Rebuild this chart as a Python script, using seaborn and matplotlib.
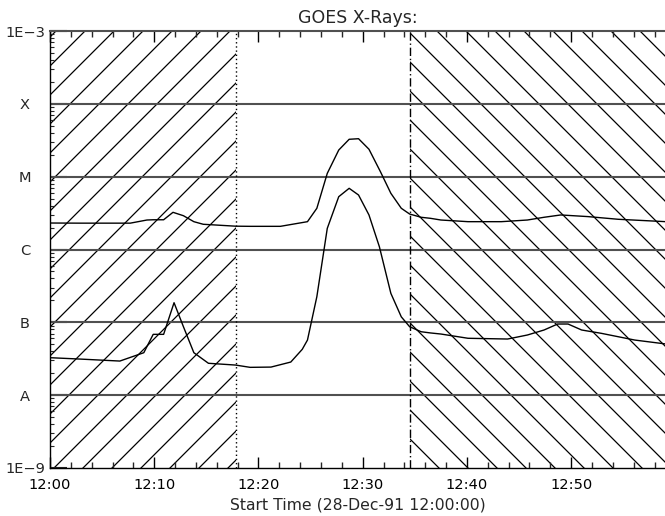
import numpy as np
import pandas as pd
import matplotlib
matplotlib.use("Agg")
import matplotlib.pyplot as plt
import seaborn as sns
from matplotlib.ticker import FixedLocator, LogLocator, NullFormatter

# minutes after 12:00 for the long channel (1-8 A)
long_t = [0.0, 2.9, 7.7, 9.3, 9.9, 10.9, 11.8, 12.8, 13.8, 14.7, 17.8, 19.2, 22.1,
          24.7, 25.6, 26.6, 27.7, 28.7, 29.6, 30.6, 31.7, 32.7, 33.7, 34.5, 35.6,
          36.5, 37.5, 40.1, 43.3, 45.8, 47.4, 49.0, 51.6, 54.5, 59.1]
long_flux = [2.31e-6, 2.30e-6, 2.30e-6, 2.54e-6, 2.56e-6, 2.56e-6, 3.24e-6, 2.91e-6,
             2.41e-6, 2.22e-6, 2.09e-6, 2.08e-6, 2.08e-6, 2.41e-6, 3.68e-6, 1.11e-5,
             2.32e-5, 3.26e-5, 3.32e-5, 2.38e-5, 1.17e-5, 5.91e-6, 3.68e-6, 3.07e-6,
             2.77e-6, 2.68e-6, 2.54e-6, 2.41e-6, 2.41e-6, 2.54e-6, 2.77e-6, 2.98e-6,
             2.83e-6, 2.60e-6, 2.41e-6]

# short channel (0.5-4 A)
short_t = [0.0, 2.9, 6.7, 9.0, 9.9, 10.9, 11.9, 12.8, 13.8, 15.2, 17.8, 19.2, 21.2,
           23.1, 24.2, 24.7, 25.6, 26.6, 27.7, 28.7, 29.6, 30.6, 31.6, 32.7, 33.7,
           34.5, 35.6, 36.5, 37.5, 40.1, 43.9, 45.8, 47.4, 48.7, 49.7, 51.0, 52.9,
           56.1, 59.1]
short_flux = [3.27e-8, 3.13e-8, 2.94e-8, 3.83e-8, 6.84e-8, 6.84e-8, 1.86e-7, 8.71e-8,
              3.83e-8, 2.74e-8, 2.59e-8, 2.41e-8, 2.43e-8, 2.85e-8, 4.26e-8, 5.71e-8,
              2.25e-7, 1.95e-6, 5.31e-6, 6.92e-6, 5.60e-6, 2.98e-6, 1.09e-6, 2.50e-7,
              1.19e-7, 8.71e-8, 7.43e-8, 7.15e-8, 6.91e-8, 6.04e-8, 5.90e-8, 6.70e-8,
              7.85e-8, 9.48e-8, 9.48e-8, 7.85e-8, 7.06e-8, 5.71e-8, 5.04e-8]

x_ticks = [0, 10, 20, 30, 40, 50]
x_labels = ["12:00", "12:10", "12:20", "12:30", "12:40", "12:50"]
y_ticks = [1e-9, 1e-8, 1e-7, 1e-6, 1e-5, 1e-4, 1e-3]
y_labels = ["1E\u22129", "A", "B", "C", "M", "X", "1E\u22123"]
pre_span = [0.0, 17.8]
post_span = [34.5, 59.0]

DPI = 87.6
K = 100.0 / DPI  # keep pixel sizes as designed for 100 dpi

sns.set_style("white")
plt.rcParams['font.family'] = ['DejaVu Sans']
plt.rcParams['hatch.linewidth'] = 0.9 * K

df = pd.concat([
    pd.DataFrame({"t": long_t, "flux": long_flux, "ch": "long"}),
    pd.DataFrame({"t": short_t, "flux": short_flux, "ch": "short"}),
], ignore_index=True)

fig = plt.figure(figsize=(665 / DPI, 516 / DPI), dpi=DPI)
ax = fig.add_axes([50 / 665, 48 / 516, 615 / 665, 437 / 516])

ax.axvspan(pre_span[0], pre_span[1], facecolor="none", edgecolor="black",
           hatch="/", linewidth=0, zorder=0)
ax.axvspan(post_span[0], post_span[1], facecolor="none", edgecolor="black",
           hatch="\\", linewidth=0, zorder=0)

sns.lineplot(data=df, x="t", y="flux", units="ch", estimator=None,
             color="black", linewidth=1.0 * K, ax=ax, legend=False)

ax.set_yscale("log")
ax.set_xlim(0, 59)
ax.set_ylim(1e-9, 1e-3)

for v in y_ticks[1:-1]:
    ax.axhline(v, color="#505050", linewidth=1.5 * K, zorder=1)

ax.axvline(pre_span[1], color="black", linestyle=(0, (1, 2)), linewidth=1.0 * K)
ax.axvline(post_span[0], color="black", linestyle=(0, (6, 2, 1, 2)), linewidth=1.0 * K)

ax.xaxis.set_major_locator(FixedLocator(x_ticks))
ax.set_xticklabels(x_labels)
ax.xaxis.set_minor_locator(FixedLocator(np.arange(0, 60, 2)))
ax.yaxis.set_major_locator(FixedLocator(y_ticks))
ax.set_yticklabels(y_labels)
ax.yaxis.set_minor_locator(LogLocator(base=10, subs=np.arange(2, 10)))
ax.yaxis.set_minor_formatter(NullFormatter())

ax.tick_params(axis="x", which="major", direction="in", length=8 * K, width=1 * K,
               top=True, bottom=True, labelsize=10.5 * K, pad=7 * K, colors="black")
ax.tick_params(axis="x", which="minor", direction="in", length=4 * K, width=1 * K,
               top=True, bottom=True)
ax.tick_params(axis="y", which="major", direction="in", length=12 * K, width=1.5 * K,
               left=True, right=False, labelsize=10.5 * K, pad=18 * K)
ax.tick_params(axis="y", which="minor", direction="in", length=3 * K, width=0.8 * K,
               left=True, right=False)
for lab in ax.get_yticklabels():
    lab.set_horizontalalignment("center")

for s in ["left", "bottom"]:
    ax.spines[s].set_color("black")
    ax.spines[s].set_linewidth(1.0 * K)
ax.spines["top"].set_color("#505050")
ax.spines["top"].set_linewidth(1.5 * K)
ax.spines["right"].set_visible(False)

ax.set_title("GOES X-Rays:", fontsize=12.5 * K, pad=6 * K)
ax.set_xlabel("Start Time (28-Dec-91 12:00:00)", fontsize=11.3 * K, labelpad=4 * K)
ax.set_ylabel("")

fig.savefig("out.png", dpi=DPI)
